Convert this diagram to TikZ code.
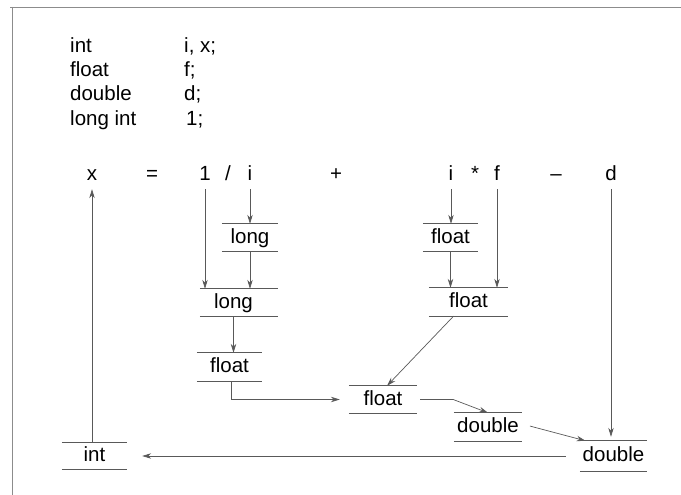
\documentclass[tikz,border=0pt]{standalone}
\usepackage{fontspec}
\setmainfont{Liberation Sans}
\usetikzlibrary{arrows.meta,calc}
\begin{document}
\begin{tikzpicture}[x=1pt,y=-1pt,
  font=\fontsize{20.5}{24}\selectfont,
  tok/.style={anchor=base,inner sep=0pt},
  decl/.style={anchor=base west,inner sep=0pt},
  tbox/.style={inner sep=0pt,minimum height=27pt,text height=15pt,text depth=4pt},
  boxline/.style={draw=black!65,line width=0.7pt},
  conn/.style={draw=black!65,line width=0.7pt,-{Stealth[length=9pt,width=5.5pt]}},
  tokconn/.style={conn,shorten <=9pt},
  frame/.style={draw=black!45,line width=0.8pt}]
\useasboundingbox (0,0) rectangle (681,495);
% frame
\draw[frame] (10,7) -- (681,7);
\draw[frame] (12,7) -- (12,495);
% declarations
\node[decl] (d1a) at (70,53) {int};
\node[decl] (d1b) at (184,53) {i, x;};
\node[decl] (d2a) at (70,77) {float};
\node[decl] (d2b) at (184,77) {f;};
\node[decl] (d3a) at (70,101) {double};
\node[decl] (d3b) at (184,101) {d;};
\node[decl] (d4a) at (70,125) {long int};
\node[decl] (d4b) at (186,125) {1;};
% expression
\node[tok] (tx) at (92,180) {x};
\node[tok] (teq) at (152,180) {=};
\node[tok] (tone) at (205,180) {1};
\node[tok] (tdiv) at (228,180) {/};
\node[tok] (ti1) at (250,180) {i};
\node[tok] (tplus) at (336,180) {+};
\node[tok] (ti2) at (451,180) {i};
\node[tok] (tmul) at (475,180) {*};
\node[tok] (tf) at (497,180) {f};
\node[tok] (tminus) at (556,180) {–};
\node[tok] (td) at (611,180) {d};
% type boxes
\node[tbox,minimum width=56pt] (long1) at (250,237.5) {long};
\node[tbox,minimum width=78pt] (long2) at (239,302.5) {\hspace*{-5.5pt}long\hspace*{5.5pt}};
\node[tbox,minimum width=65pt,minimum height=28pt] (float1) at (229.5,367) {float};
\node[tbox,minimum width=55pt] (flif) at (450.5,237.5) {float};
\node[tbox,minimum width=79pt,minimum height=28pt] (flmul) at (468.5,302) {float};
\node[tbox,minimum width=68pt] (flsum) at (383,399.5) {float};
\node[tbox,minimum width=68pt,minimum height=28pt] (dbl1) at (488,427) {double};
\node[tbox,minimum width=67pt,minimum height=30pt] (dbl2) at (613.5,456) {double};
\node[tbox,minimum width=65pt,minimum height=26pt] (tint) at (94.5,456) {int};
\foreach \n in {long1,long2,float1,flif,flmul,flsum,dbl1,dbl2,tint}
  \draw[boxline] (\n.north west) -- (\n.north east) (\n.south west) -- (\n.south east);
% connectors
\draw[tokconn] (ti1.south) -- (ti1.south |- long1.north);
\draw[tokconn] (tone.south) -- (tone.south |- long2.north);
\draw[conn] (long1.south) -- (long1.south |- long2.north);
\coordinate (l2out) at ([xshift=-5.5pt]long2.south);
\draw[conn] (l2out) -- (l2out |- float1.north);
\draw[conn,shorten >=9pt] ([xshift=1.5pt]float1.south) |- (flsum.west);
\draw[tokconn] (ti2.south) -- (ti2.south |- flif.north);
\draw[conn] (flif.south) -- (flif.south |- flmul.north);
\draw[tokconn] (tf.south) -- (tf.south |- flmul.north);
\draw[conn] ([xshift=-15pt]flmul.south) -- ([xshift=4pt]flsum.north);
\draw[conn,shorten <=3pt] (flsum.east) -- ++(36,0) -- (dbl1.north);
\draw[conn,shorten <=8pt] ([yshift=3pt]dbl1.east) -- ([xshift=-28pt]dbl2.north);
\draw[tokconn,shorten >=4pt] (td.south) -- (td.south |- dbl2.north);
\draw[conn,shorten <=14pt,shorten >=15pt] (dbl2.west) -- (tint.east);
\draw[conn,shorten >=9pt] (tx.south |- tint.north) -- (tx.south);
\end{tikzpicture}
\end{document}
